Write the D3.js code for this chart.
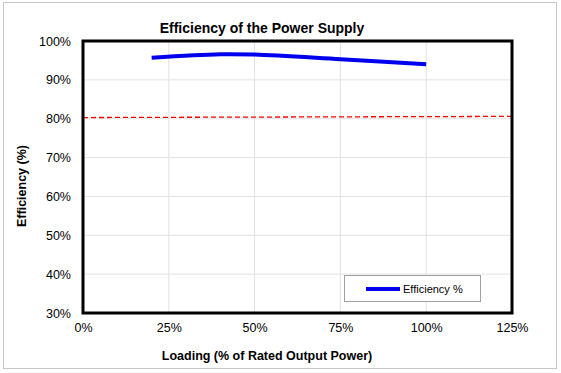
<!DOCTYPE html>
<html>
<head>
<meta charset="utf-8">
<script src="https://cdn.jsdelivr.net/npm/d3@7"></script>
<style>
  body { margin: 0; background: #fff; }
  text { font-family: "Liberation Sans", Arial, sans-serif; }
</style>
</head>
<body>
<svg id="chart" width="561" height="373"></svg>
<script>
// data
const loading = [20, 40, 50, 75, 100];
const efficiency = [95.7, 96.6, 96.5, 95.3, 94.0];
const limitX = [0, 125];
const limitY = [80.3, 80.6];
const xTicks = [0, 25, 50, 75, 100, 125];
const yTicks = [30, 40, 50, 60, 70, 80, 90, 100];

const svg = d3.select("#chart");

// outer chart border
svg.append("rect")
    .attr("x", 3.5).attr("y", 2.5)
    .attr("width", 553).attr("height", 366)
    .attr("fill", "#fff")
    .attr("stroke", "#c8c8c8")
    .attr("stroke-width", 1);

let pl = 83, pr = 512, pt = 41, pb = 313;

let x = d3.scaleLinear().domain([0, 125]).range([pl, pr]);
let y = d3.scaleLinear().domain([30, 100]).range([pb, pt]);

// gridlines
svg.append("g")
    .selectAll("line")
    .data(xTicks)
    .join("line")
    .attr("x1", d => x(d)).attr("x2", d => x(d))
    .attr("y1", pt).attr("y2", pb)
    .attr("stroke", "#e2e2e2").attr("stroke-width", 1);

svg.append("g")
    .selectAll("line")
    .data(yTicks)
    .join("line")
    .attr("x1", pl).attr("x2", pr)
    .attr("y1", d => y(d)).attr("y2", d => y(d))
    .attr("stroke", "#e2e2e2").attr("stroke-width", 1);

// axes (labels only, frame drawn separately)
let xaxis = d3.axisBottom(x).tickValues(xTicks).tickSize(0).tickPadding(10)
    .tickFormat(d => d + "%");
let yaxis = d3.axisLeft(y).tickValues(yTicks).tickSize(0).tickPadding(12)
    .tickFormat(d => d + "%");

let gx = svg.append("g").attr("transform", `translate(0,${pb})`).call(xaxis);
let gy = svg.append("g").attr("transform", `translate(${pl},0)`).call(yaxis);
[gx, gy].forEach(g => {
    g.select(".domain").remove();
    g.selectAll("text")
        .attr("font-size", "12.5px")
        .attr("font-family", "Liberation Sans, Arial, sans-serif")
        .attr("fill", "#000");
});

// red dashed limit line
let line = d3.line().x(d => x(d[0])).y(d => y(d[1]));
svg.append("path")
    .datum(d3.zip(limitX, limitY))
    .attr("d", line)
    .attr("fill", "none")
    .attr("stroke", "#ff0000")
    .attr("stroke-width", 1.3)
    .attr("stroke-dasharray", "5,3");

// efficiency curve
let curve = d3.line().x(d => x(d[0])).y(d => y(d[1])).curve(d3.curveCatmullRom);
svg.append("path")
    .datum(d3.zip(loading, efficiency))
    .attr("d", curve)
    .attr("fill", "none")
    .attr("stroke", "#0000ee")
    .attr("stroke-width", 4)
    .attr("stroke-linecap", "butt");

// plot frame
svg.append("rect")
    .attr("x", pl).attr("y", pt)
    .attr("width", pr - pl).attr("height", pb - pt)
    .attr("fill", "none")
    .attr("stroke", "#000")
    .attr("stroke-width", 3);

// legend
svg.append("rect")
    .attr("x", 344.5).attr("y", 275.5)
    .attr("width", 136).attr("height", 26)
    .attr("fill", "#fff")
    .attr("stroke", "#a0a0a0").attr("stroke-width", 1);
svg.append("line")
    .attr("x1", 366).attr("x2", 400)
    .attr("y1", 289).attr("y2", 289)
    .attr("stroke", "#0000ee").attr("stroke-width", 4);
svg.append("text")
    .attr("x", 403).attr("y", 293)
    .attr("font-size", "11px")
    .text("Efficiency %");

// titles
svg.append("text")
    .attr("x", 262).attr("y", 33)
    .attr("text-anchor", "middle")
    .attr("font-size", "14px")
    .attr("font-weight", "bold")
    .text("Efficiency of the Power Supply");

svg.append("text")
    .attr("x", 267).attr("y", 360)
    .attr("text-anchor", "middle")
    .attr("font-size", "12.5px")
    .attr("font-weight", "bold")
    .text("Loading (% of Rated Output Power)");

svg.append("text")
    .attr("transform", "translate(26,186) rotate(-90)")
    .attr("text-anchor", "middle")
    .attr("font-size", "12.5px")
    .attr("font-weight", "bold")
    .text("Efficiency (%)");
</script>
</body>
</html>
